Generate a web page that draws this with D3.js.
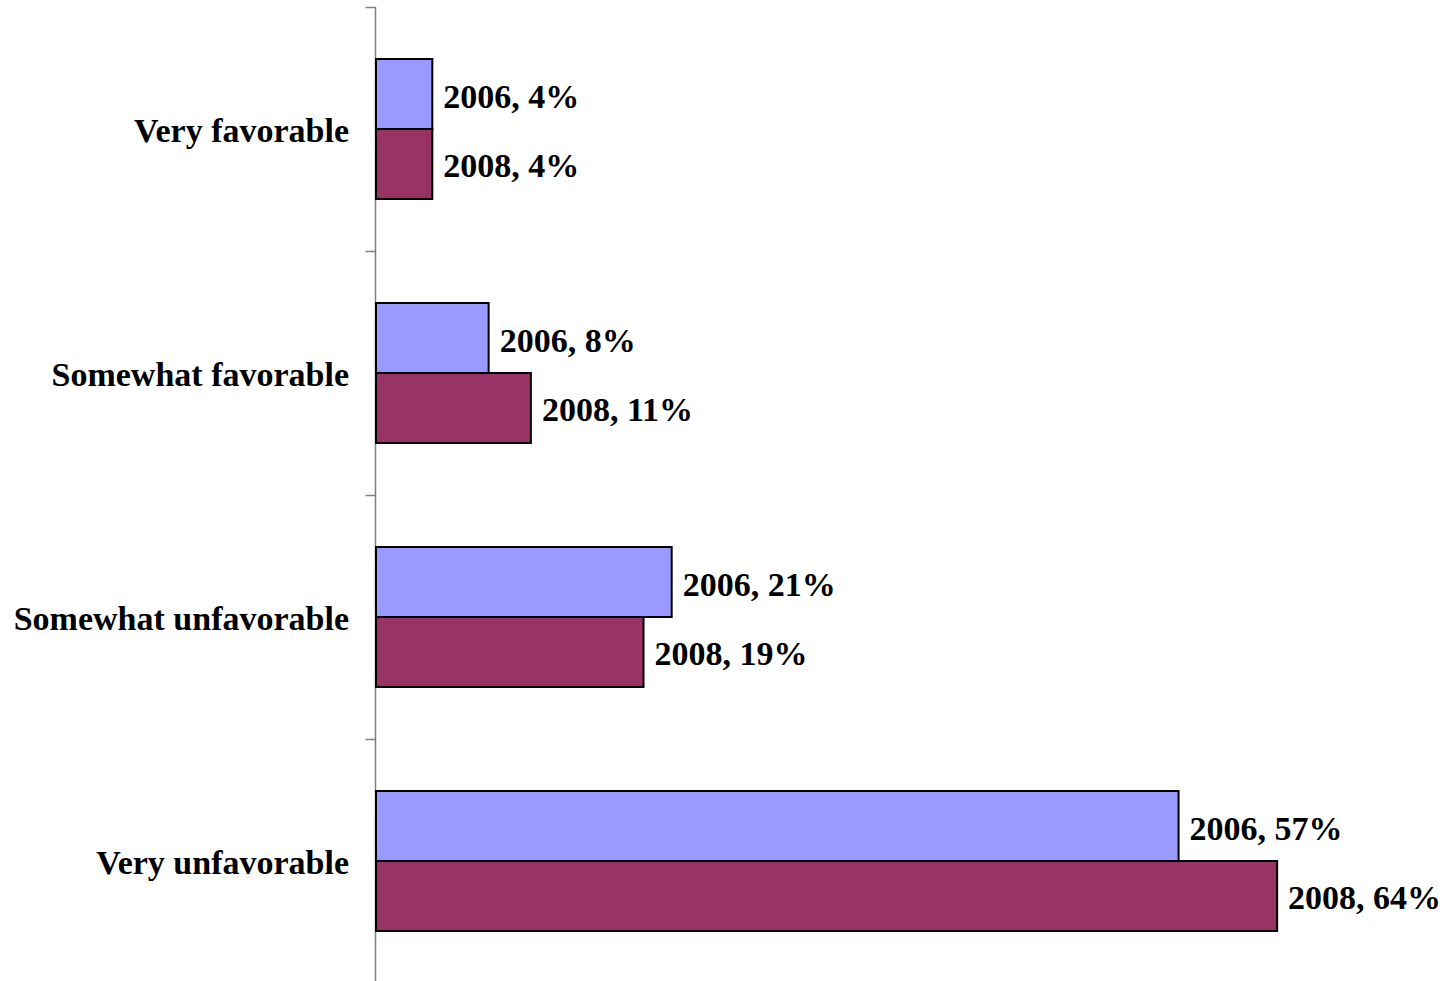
<!DOCTYPE html>
<html>
<head>
<meta charset="utf-8">
<script src="https://cdn.jsdelivr.net/npm/d3@7"></script>
<style>
  html, body { margin: 0; padding: 0; background: #fff; }
  svg { display: block; }
  text { font-family: "Liberation Serif", "DejaVu Serif", serif; font-weight: bold; fill: #000; }
</style>
</head>
<body>
<svg id="chart" width="1454" height="981"></svg>
<script>
const categories = ["Very favorable", "Somewhat favorable", "Somewhat unfavorable", "Very unfavorable"];
const seriesNames = ["2006", "2008"];
const values2006 = [4, 8, 21, 57];
const values2008 = [4, 11, 19, 64];
const seriesColors = ["#9999FF", "#993366"];

const svg = d3.select("#chart");
const x0 = 376;
const x = d3.scaleLinear().domain([0, 70]).range([x0, x0 + 70 * 14.08]);
const y = d3.scaleBand().domain(categories).range([7, 983]).paddingInner(0).paddingOuter(0);
const ySub = d3.scaleBand().domain(seriesNames).range([0, y.bandwidth()]).paddingInner(0).paddingOuter(0.743);

const data = categories.map((c, i) => ({
  category: c,
  values: [
    { series: seriesNames[0], value: values2006[i], color: seriesColors[0] },
    { series: seriesNames[1], value: values2008[i], color: seriesColors[1] }
  ]
}));

// category axis (left) with ticks at band boundaries
const axisG = svg.append("g").attr("transform", `translate(${x0 - 0.5},0)`);
const boundaries = categories.map(c => y(c)).concat([y(categories[categories.length - 1]) + y.bandwidth()]);
axisG.append("line").attr("x1", 0).attr("x2", 0).attr("y1", boundaries[0]).attr("y2", 983)
  .attr("stroke", "#808080").attr("stroke-width", 1.5);
axisG.selectAll(".tk").data(boundaries).enter().append("line")
  .attr("x1", -10).attr("x2", 0)
  .attr("y1", d => Math.round(d) + 0.5).attr("y2", d => Math.round(d) + 0.5)
  .attr("stroke", "#808080").attr("stroke-width", 1.5);

// category labels
svg.selectAll(".cat").data(categories).enter().append("text")
  .attr("x", 349)
  .attr("y", d => y(d) + y.bandwidth() / 2 + 1)
  .attr("text-anchor", "end")
  .attr("dominant-baseline", "central")
  .style("font-size", "34px")
  .text(d => d);

const groups = svg.selectAll(".grp").data(data).enter().append("g")
  .attr("transform", d => `translate(0,${y(d.category)})`);

groups.selectAll("rect").data(d => d.values).enter().append("rect")
  .attr("x", x(0))
  .attr("y", d => ySub(d.series))
  .attr("width", d => x(d.value) - x(0))
  .attr("height", ySub.bandwidth())
  .attr("fill", d => d.color)
  .attr("stroke", "#000")
  .attr("stroke-width", 2);

groups.selectAll(".lbl").data(d => d.values).enter().append("text")
  .attr("x", d => x(d.value) + 11)
  .attr("y", d => ySub(d.series) + ySub.bandwidth() / 2 + 2)
  .attr("dominant-baseline", "central")
  .style("font-size", "34px")
  .text(d => `${d.series}, ${d.value}%`);
</script>
</body>
</html>
